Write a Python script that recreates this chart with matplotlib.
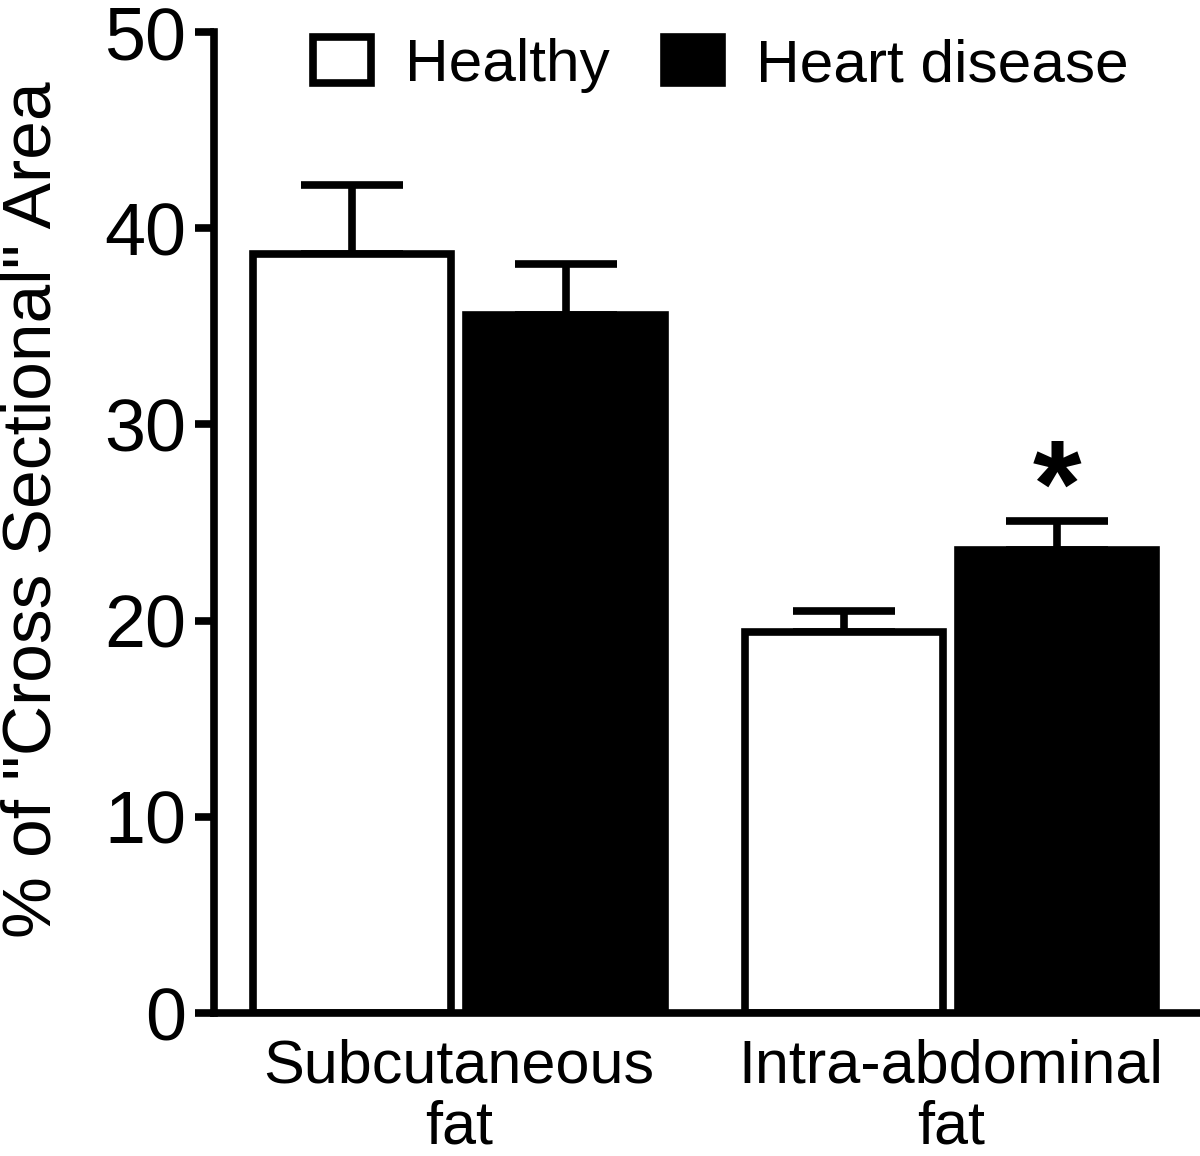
import numpy as np
import matplotlib.pyplot as plt
from matplotlib.patches import Patch

plt.rcParams['font.family'] = ['Liberation Sans', 'DejaVu Sans']

# data
groups = ['Subcutaneous\nfat', 'Intra-abdominal\nfat']
series = ['Healthy', 'Heart disease']
healthy = [38.7, 19.4]
healthy_err = [3.5, 1.1]
disease = [35.6, 23.6]
disease_err = [2.6, 1.5]
signif = ['', '*']   # marks above the heart disease bars

lw = 5.5
x = np.arange(len(groups))
width = 0.403
off = 0.217

fig = plt.figure(figsize=(12, 11.56), dpi=100)
ax = fig.add_axes([0.1783, 0.1237, 0.8217, 0.8486])

b1 = ax.bar(x - off, healthy, width, color='white', edgecolor='black', linewidth=lw, zorder=2)
b2 = ax.bar(x + off, disease, width, color='black', edgecolor='black', linewidth=lw, zorder=2)

# upper error bars only
for xs, vals, errs in [(x - off, healthy, healthy_err), (x + off, disease, disease_err)]:
    eb = ax.errorbar(xs, vals, yerr=[np.zeros(len(errs)), errs], fmt='none',
                     ecolor='black', elinewidth=lw, capsize=37, capthick=lw, zorder=1)
    for c in eb[1]:
        c.set_solid_capstyle('round')

for xi, v, e, s in zip(x + off, disease, disease_err, signif):
    if s:
        ax.text(xi, v + e - 1.65, s, ha='center', va='bottom', fontsize=90,
                fontweight='bold')

ax.set_xlim(-0.498, 1.507)
ax.set_ylim(0, 50)
ax.set_yticks([0, 10, 20, 30, 40, 50])
ax.set_xticks(x)
ax.set_xticklabels(groups, fontsize=44, linespacing=1.1)
ax.tick_params(axis='x', length=0, pad=18)
ax.tick_params(axis='y', labelsize=53, width=lw, length=14, pad=6)

for sp in ['top', 'right']:
    ax.spines[sp].set_visible(False)
for sp in ['left', 'bottom']:
    ax.spines[sp].set_linewidth(lw)

ax.set_ylabel('% of "Cross Sectional" Area', fontsize=50)
ax.yaxis.set_label_coords(-0.152, 0.513)

handles = [Patch(facecolor='white', edgecolor='black', linewidth=lw),
           Patch(facecolor='black', edgecolor='black', linewidth=lw)]
ax.legend(handles, series, ncol=2, frameon=False, fontsize=43.5,
          loc='upper left', bbox_to_anchor=(0.261, 0.968), bbox_transform=fig.transFigure,
          borderpad=0, borderaxespad=0, handlelength=0.95, handleheight=0.8,
          handletextpad=0.57, columnspacing=0.9)

fig.savefig('out.png', dpi=100)
